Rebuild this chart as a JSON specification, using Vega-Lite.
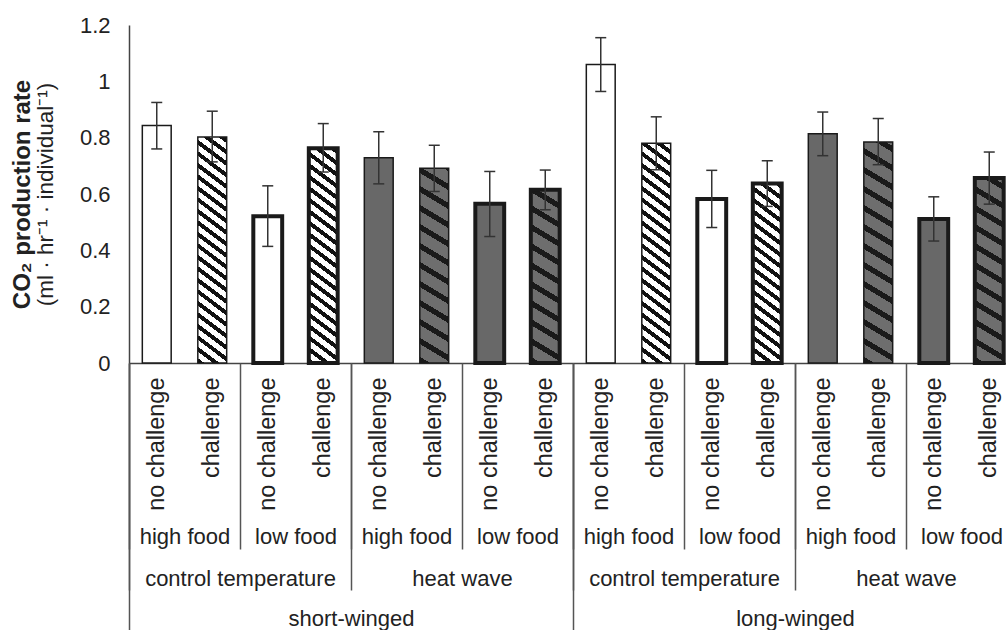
{
  "$schema": "https://vega.github.io/schema/vega-lite/v6.json",
  "width": 877,
  "height": 338,
  "autosize": {"type": "none"},
  "padding": {"left": 129, "top": 25, "right": 0, "bottom": 267},
  "config": {
    "font": "Liberation Sans",
    "view": {"stroke": null},
    "axis": {"grid": false, "labelFont": "Liberation Sans", "labelColor": "#222222", "labelFontSize": 22, "titleFont": "Liberation Sans", "titleColor": "#222222"}
  },
  "data": {
    "values": [
      {"wing": "short-winged", "temp": "control temperature", "food": "high food", "challenge": "no challenge", "bar": "SW|CT|HF|no challenge", "foodGroup": "SW|CT|high food", "tempGroup": "SW|control temperature", "mean": 0.843, "lo": 0.760, "hi": 0.925},
      {"wing": "short-winged", "temp": "control temperature", "food": "high food", "challenge": "challenge", "bar": "SW|CT|HF|challenge", "foodGroup": "SW|CT|high food", "tempGroup": "SW|control temperature", "mean": 0.802, "lo": 0.714, "hi": 0.894},
      {"wing": "short-winged", "temp": "control temperature", "food": "low food", "challenge": "no challenge", "bar": "SW|CT|LF|no challenge", "foodGroup": "SW|CT|low food", "tempGroup": "SW|control temperature", "mean": 0.521, "lo": 0.414, "hi": 0.629},
      {"wing": "short-winged", "temp": "control temperature", "food": "low food", "challenge": "challenge", "bar": "SW|CT|LF|challenge", "foodGroup": "SW|CT|low food", "tempGroup": "SW|control temperature", "mean": 0.762, "lo": 0.678, "hi": 0.850},
      {"wing": "short-winged", "temp": "heat wave", "food": "high food", "challenge": "no challenge", "bar": "SW|HW|HF|no challenge", "foodGroup": "SW|HW|high food", "tempGroup": "SW|heat wave", "mean": 0.729, "lo": 0.636, "hi": 0.821},
      {"wing": "short-winged", "temp": "heat wave", "food": "high food", "challenge": "challenge", "bar": "SW|HW|HF|challenge", "foodGroup": "SW|HW|high food", "tempGroup": "SW|heat wave", "mean": 0.691, "lo": 0.609, "hi": 0.773},
      {"wing": "short-winged", "temp": "heat wave", "food": "low food", "challenge": "no challenge", "bar": "SW|HW|LF|no challenge", "foodGroup": "SW|HW|low food", "tempGroup": "SW|heat wave", "mean": 0.565, "lo": 0.449, "hi": 0.680},
      {"wing": "short-winged", "temp": "heat wave", "food": "low food", "challenge": "challenge", "bar": "SW|HW|LF|challenge", "foodGroup": "SW|HW|low food", "tempGroup": "SW|heat wave", "mean": 0.615, "lo": 0.544, "hi": 0.685},
      {"wing": "long-winged", "temp": "control temperature", "food": "high food", "challenge": "no challenge", "bar": "LW|CT|HF|no challenge", "foodGroup": "LW|CT|high food", "tempGroup": "LW|control temperature", "mean": 1.06, "lo": 0.964, "hi": 1.155},
      {"wing": "long-winged", "temp": "control temperature", "food": "high food", "challenge": "challenge", "bar": "LW|CT|HF|challenge", "foodGroup": "LW|CT|high food", "tempGroup": "LW|control temperature", "mean": 0.780, "lo": 0.686, "hi": 0.874},
      {"wing": "long-winged", "temp": "control temperature", "food": "low food", "challenge": "no challenge", "bar": "LW|CT|LF|no challenge", "foodGroup": "LW|CT|low food", "tempGroup": "LW|control temperature", "mean": 0.582, "lo": 0.481, "hi": 0.684},
      {"wing": "long-winged", "temp": "control temperature", "food": "low food", "challenge": "challenge", "bar": "LW|CT|LF|challenge", "foodGroup": "LW|CT|low food", "tempGroup": "LW|control temperature", "mean": 0.637, "lo": 0.556, "hi": 0.718},
      {"wing": "long-winged", "temp": "heat wave", "food": "high food", "challenge": "no challenge", "bar": "LW|HW|HF|no challenge", "foodGroup": "LW|HW|high food", "tempGroup": "LW|heat wave", "mean": 0.814, "lo": 0.736, "hi": 0.891},
      {"wing": "long-winged", "temp": "heat wave", "food": "high food", "challenge": "challenge", "bar": "LW|HW|HF|challenge", "foodGroup": "LW|HW|high food", "tempGroup": "LW|heat wave", "mean": 0.785, "lo": 0.704, "hi": 0.868},
      {"wing": "long-winged", "temp": "heat wave", "food": "low food", "challenge": "no challenge", "bar": "LW|HW|LF|no challenge", "foodGroup": "LW|HW|low food", "tempGroup": "LW|heat wave", "mean": 0.511, "lo": 0.433, "hi": 0.590},
      {"wing": "long-winged", "temp": "heat wave", "food": "low food", "challenge": "challenge", "bar": "LW|HW|LF|challenge", "foodGroup": "LW|HW|low food", "tempGroup": "LW|heat wave", "mean": 0.657, "lo": 0.564, "hi": 0.749}
    ]
  },
  "layer": [
    {
      "encoding": {
        "x": {
          "field": "bar", "type": "nominal",
          "scale": {
            "domain": ["SW|CT|HF|no challenge", "SW|CT|HF|challenge", "SW|CT|LF|no challenge", "SW|CT|LF|challenge", "SW|HW|HF|no challenge", "SW|HW|HF|challenge", "SW|HW|LF|no challenge", "SW|HW|LF|challenge", "LW|CT|HF|no challenge", "LW|CT|HF|challenge", "LW|CT|LF|no challenge", "LW|CT|LF|challenge", "LW|HW|HF|no challenge", "LW|HW|HF|challenge", "LW|HW|LF|no challenge", "LW|HW|LF|challenge"],
            "range": [0, 888], "paddingInner": 0, "paddingOuter": 0
          },
          "axis": {
            "orient": "bottom", "title": null, "offset": 0, "domain": true, "domainColor": "#444444", "domainWidth": 1.5,
            "ticks": false, "tickSize": 0, "labelAngle": 270, "labelAlign": "right", "labelBaseline": "middle", "labelPadding": 14,
            "labelFontSize": 23.5,
            "labelExpr": "split(datum.label, '|')[3]", "labelLimit": 0, "labelOverlap": false, "labelFlush": false, "grid": false
          }
        }
      },
      "layer": [
        {
          "transform": [{"filter": "datum.challenge === 'challenge' && datum.temp === 'control temperature'"}],
          "mark": {
            "type": "bar", "width": {"band": 0.52}, "stroke": null,
            "fill": {
              "gradient": "linear", "x1": 0, "y1": 1, "x2": 0.0679, "y2": -0.0597,
              "stops": [
                {"offset": 0, "color": "#111111"}, {"offset": 0.0138, "color": "#111111"}, {"offset": 0.0138, "color": "#ffffff"}, {"offset": 0.0320, "color": "#ffffff"},
                {"offset": 0.0320, "color": "#111111"}, {"offset": 0.0457, "color": "#111111"}, {"offset": 0.0457, "color": "#ffffff"}, {"offset": 0.0640, "color": "#ffffff"},
                {"offset": 0.0640, "color": "#111111"}, {"offset": 0.0777, "color": "#111111"}, {"offset": 0.0777, "color": "#ffffff"}, {"offset": 0.0959, "color": "#ffffff"},
                {"offset": 0.0959, "color": "#111111"}, {"offset": 0.1097, "color": "#111111"}, {"offset": 0.1097, "color": "#ffffff"}, {"offset": 0.1279, "color": "#ffffff"},
                {"offset": 0.1279, "color": "#111111"}, {"offset": 0.1417, "color": "#111111"}, {"offset": 0.1417, "color": "#ffffff"}, {"offset": 0.1599, "color": "#ffffff"},
                {"offset": 0.1599, "color": "#111111"}, {"offset": 0.1736, "color": "#111111"}, {"offset": 0.1736, "color": "#ffffff"}, {"offset": 0.1919, "color": "#ffffff"},
                {"offset": 0.1919, "color": "#111111"}, {"offset": 0.2056, "color": "#111111"}, {"offset": 0.2056, "color": "#ffffff"}, {"offset": 0.2238, "color": "#ffffff"},
                {"offset": 0.2238, "color": "#111111"}, {"offset": 0.2376, "color": "#111111"}, {"offset": 0.2376, "color": "#ffffff"}, {"offset": 0.2558, "color": "#ffffff"},
                {"offset": 0.2558, "color": "#111111"}, {"offset": 0.2696, "color": "#111111"}, {"offset": 0.2696, "color": "#ffffff"}, {"offset": 0.2878, "color": "#ffffff"},
                {"offset": 0.2878, "color": "#111111"}, {"offset": 0.3015, "color": "#111111"}, {"offset": 0.3015, "color": "#ffffff"}, {"offset": 0.3198, "color": "#ffffff"},
                {"offset": 0.3198, "color": "#111111"}, {"offset": 0.3335, "color": "#111111"}, {"offset": 0.3335, "color": "#ffffff"}, {"offset": 0.3517, "color": "#ffffff"},
                {"offset": 0.3517, "color": "#111111"}, {"offset": 0.3655, "color": "#111111"}, {"offset": 0.3655, "color": "#ffffff"}, {"offset": 0.3837, "color": "#ffffff"},
                {"offset": 0.3837, "color": "#111111"}, {"offset": 0.3975, "color": "#111111"}, {"offset": 0.3975, "color": "#ffffff"}, {"offset": 0.4157, "color": "#ffffff"},
                {"offset": 0.4157, "color": "#111111"}, {"offset": 0.4294, "color": "#111111"}, {"offset": 0.4294, "color": "#ffffff"}, {"offset": 0.4477, "color": "#ffffff"},
                {"offset": 0.4477, "color": "#111111"}, {"offset": 0.4614, "color": "#111111"}, {"offset": 0.4614, "color": "#ffffff"}, {"offset": 0.4796, "color": "#ffffff"},
                {"offset": 0.4796, "color": "#111111"}, {"offset": 0.4934, "color": "#111111"}, {"offset": 0.4934, "color": "#ffffff"}, {"offset": 0.5116, "color": "#ffffff"},
                {"offset": 0.5116, "color": "#111111"}, {"offset": 0.5254, "color": "#111111"}, {"offset": 0.5254, "color": "#ffffff"}, {"offset": 0.5436, "color": "#ffffff"},
                {"offset": 0.5436, "color": "#111111"}, {"offset": 0.5573, "color": "#111111"}, {"offset": 0.5573, "color": "#ffffff"}, {"offset": 0.5756, "color": "#ffffff"},
                {"offset": 0.5756, "color": "#111111"}, {"offset": 0.5893, "color": "#111111"}, {"offset": 0.5893, "color": "#ffffff"}, {"offset": 0.6075, "color": "#ffffff"},
                {"offset": 0.6075, "color": "#111111"}, {"offset": 0.6213, "color": "#111111"}, {"offset": 0.6213, "color": "#ffffff"}, {"offset": 0.6395, "color": "#ffffff"},
                {"offset": 0.6395, "color": "#111111"}, {"offset": 0.6533, "color": "#111111"}, {"offset": 0.6533, "color": "#ffffff"}, {"offset": 0.6715, "color": "#ffffff"},
                {"offset": 0.6715, "color": "#111111"}, {"offset": 0.6852, "color": "#111111"}, {"offset": 0.6852, "color": "#ffffff"}, {"offset": 0.7035, "color": "#ffffff"},
                {"offset": 0.7035, "color": "#111111"}, {"offset": 0.7172, "color": "#111111"}, {"offset": 0.7172, "color": "#ffffff"}, {"offset": 0.7354, "color": "#ffffff"},
                {"offset": 0.7354, "color": "#111111"}, {"offset": 0.7492, "color": "#111111"}, {"offset": 0.7492, "color": "#ffffff"}, {"offset": 1, "color": "#ffffff"}
              ]
            }
          },
          "encoding": {
            "y": {
              "datum": 1.2, "type": "quantitative",
              "scale": {"domain": [0, 1.2], "nice": false, "zero": true},
              "axis": {
                "orient": "left", "title": "(ml · hr⁻¹ · individual⁻¹)", "titleFontWeight": "normal", "titleFontSize": 22.5,
                "titleX": -84, "titleBaseline": "middle", "titleAngle": 270,
                "values": [0, 0.2, 0.4, 0.6, 0.8, 1, 1.2], "format": "~g",
                "ticks": false, "tickSize": 0, "labelPadding": 19, "domainColor": "#444444", "domainWidth": 1.5, "grid": false
              }
            },
            "y2": {"datum": 0}
          }
        },
        {
          "transform": [{"filter": "datum.challenge === 'challenge' && datum.temp === 'heat wave'"}],
          "mark": {
            "type": "bar", "width": {"band": 0.52}, "stroke": null,
            "fill": {
              "gradient": "linear", "x1": 0, "y1": 1, "x2": 0.0537, "y2": -0.0485,
              "stops": [
                {"offset": 0, "color": "#1a1a1a"}, {"offset": 0.0176, "color": "#1a1a1a"}, {"offset": 0.0176, "color": "#6e6e6e"}, {"offset": 0.0535, "color": "#6e6e6e"},
                {"offset": 0.0535, "color": "#1a1a1a"}, {"offset": 0.0711, "color": "#1a1a1a"}, {"offset": 0.0711, "color": "#6e6e6e"}, {"offset": 0.1069, "color": "#6e6e6e"},
                {"offset": 0.1069, "color": "#1a1a1a"}, {"offset": 0.1246, "color": "#1a1a1a"}, {"offset": 0.1246, "color": "#6e6e6e"}, {"offset": 0.1604, "color": "#6e6e6e"},
                {"offset": 0.1604, "color": "#1a1a1a"}, {"offset": 0.1781, "color": "#1a1a1a"}, {"offset": 0.1781, "color": "#6e6e6e"}, {"offset": 0.2139, "color": "#6e6e6e"},
                {"offset": 0.2139, "color": "#1a1a1a"}, {"offset": 0.2316, "color": "#1a1a1a"}, {"offset": 0.2316, "color": "#6e6e6e"}, {"offset": 0.2674, "color": "#6e6e6e"},
                {"offset": 0.2674, "color": "#1a1a1a"}, {"offset": 0.2850, "color": "#1a1a1a"}, {"offset": 0.2850, "color": "#6e6e6e"}, {"offset": 0.3208, "color": "#6e6e6e"},
                {"offset": 0.3208, "color": "#1a1a1a"}, {"offset": 0.3385, "color": "#1a1a1a"}, {"offset": 0.3385, "color": "#6e6e6e"}, {"offset": 0.3743, "color": "#6e6e6e"},
                {"offset": 0.3743, "color": "#1a1a1a"}, {"offset": 0.3920, "color": "#1a1a1a"}, {"offset": 0.3920, "color": "#6e6e6e"}, {"offset": 0.4278, "color": "#6e6e6e"},
                {"offset": 0.4278, "color": "#1a1a1a"}, {"offset": 0.4455, "color": "#1a1a1a"}, {"offset": 0.4455, "color": "#6e6e6e"}, {"offset": 0.4813, "color": "#6e6e6e"},
                {"offset": 0.4813, "color": "#1a1a1a"}, {"offset": 0.4989, "color": "#1a1a1a"}, {"offset": 0.4989, "color": "#6e6e6e"}, {"offset": 0.5347, "color": "#6e6e6e"},
                {"offset": 0.5347, "color": "#1a1a1a"}, {"offset": 0.5524, "color": "#1a1a1a"}, {"offset": 0.5524, "color": "#6e6e6e"}, {"offset": 0.5882, "color": "#6e6e6e"},
                {"offset": 0.5882, "color": "#1a1a1a"}, {"offset": 0.6059, "color": "#1a1a1a"}, {"offset": 0.6059, "color": "#6e6e6e"}, {"offset": 0.6417, "color": "#6e6e6e"},
                {"offset": 0.6417, "color": "#1a1a1a"}, {"offset": 0.6594, "color": "#1a1a1a"}, {"offset": 0.6594, "color": "#6e6e6e"}, {"offset": 0.6952, "color": "#6e6e6e"},
                {"offset": 0.6952, "color": "#1a1a1a"}, {"offset": 0.7128, "color": "#1a1a1a"}, {"offset": 0.7128, "color": "#6e6e6e"}, {"offset": 1, "color": "#6e6e6e"}
              ]
            }
          },
          "encoding": {
            "y": {"datum": 1.2, "type": "quantitative"},
            "y2": {"datum": 0}
          }
        },
        {
          "transform": [{"filter": "datum.challenge === 'challenge'"}],
          "mark": {"type": "bar", "width": {"band": 0.56}, "fill": "#ffffff", "stroke": null},
          "encoding": {
            "y": {"field": "mean", "type": "quantitative"},
            "y2": {"datum": 1.2}
          }
        },
        {
          "mark": {"type": "bar", "width": {"band": 0.52}, "stroke": "#1a1a1a"},
          "encoding": {
            "y": {"field": "mean", "type": "quantitative"},
            "fill": {
              "condition": [
                {"test": "datum.challenge === 'challenge'", "value": "transparent"},
                {"test": "datum.temp === 'control temperature'", "value": "#ffffff"}
              ],
              "value": "#686868"
            },
            "strokeWidth": {"condition": {"test": "datum.food === 'low food'", "value": 4}, "value": 1.5}
          }
        },
        {
          "mark": {"type": "rule", "color": "#333333", "strokeWidth": 1.5},
          "encoding": {
            "y": {"field": "lo", "type": "quantitative"},
            "y2": {"field": "hi"}
          }
        },
        {
          "mark": {"type": "tick", "color": "#333333", "size": 11, "thickness": 1.5, "opacity": 1},
          "encoding": {"y": {"field": "lo", "type": "quantitative"}}
        },
        {
          "mark": {"type": "tick", "color": "#333333", "size": 11, "thickness": 1.5, "opacity": 1},
          "encoding": {"y": {"field": "hi", "type": "quantitative"}}
        }
      ]
    },
    {
      "mark": {"type": "point", "opacity": 0},
      "encoding": {
        "x": {
          "field": "foodGroup", "type": "nominal", "sort": null,
          "scale": {"type": "band", "range": [0, 888], "paddingInner": 0, "paddingOuter": 0},
          "axis": {
            "orient": "bottom", "title": null, "offset": 0, "domain": false, "ticks": true, "tickBand": "extent",
            "tickSize": 186, "tickColor": "#555555", "tickWidth": 1.5, "labelPadding": -13, "labelBaseline": "middle", "labelAngle": 0,
            "labelExpr": "split(datum.label, '|')[2]", "labelLimit": 0, "labelOverlap": false, "labelFlush": false, "grid": false
          }
        }
      }
    },
    {
      "mark": {"type": "point", "opacity": 0},
      "encoding": {
        "x": {
          "field": "tempGroup", "type": "nominal", "sort": null,
          "scale": {"type": "band", "range": [0, 888], "paddingInner": 0, "paddingOuter": 0},
          "axis": {
            "orient": "bottom", "title": null, "offset": 0, "domain": false, "ticks": true, "tickBand": "extent",
            "tickSize": 227, "tickColor": "#555555", "tickWidth": 1.5, "labelPadding": -12, "labelBaseline": "middle", "labelAngle": 0,
            "labelExpr": "split(datum.label, '|')[1]", "labelLimit": 0, "labelOverlap": false, "labelFlush": false, "grid": false
          }
        }
      }
    },
    {
      "mark": {"type": "point", "opacity": 0},
      "encoding": {
        "x": {
          "field": "wing", "type": "nominal", "sort": null,
          "scale": {"type": "band", "range": [0, 888], "paddingInner": 0, "paddingOuter": 0},
          "axis": {
            "orient": "bottom", "title": null, "offset": 0, "domain": false, "ticks": true, "tickBand": "extent",
            "tickSize": 267, "tickColor": "#555555", "tickWidth": 1.5, "labelPadding": -12, "labelBaseline": "middle", "labelAngle": 0,
            "labelLimit": 0, "labelOverlap": false, "labelFlush": false, "grid": false
          }
        }
      }
    },
    {
      "mark": {"type": "point", "opacity": 0},
      "encoding": {
        "y": {
          "field": "mean", "type": "quantitative",
          "scale": {"domain": [0, 1.2], "nice": false},
          "axis": {
            "orient": "left", "title": "CO₂ production rate", "titleFontWeight": "bold", "titleFontSize": 24,
            "titleX": -107, "titleBaseline": "middle", "titleAngle": 270,
            "labels": false, "ticks": false, "domain": false, "grid": false
          }
        }
      }
    }
  ],
  "resolve": {"scale": {"x": "independent", "y": "independent"}}
}
